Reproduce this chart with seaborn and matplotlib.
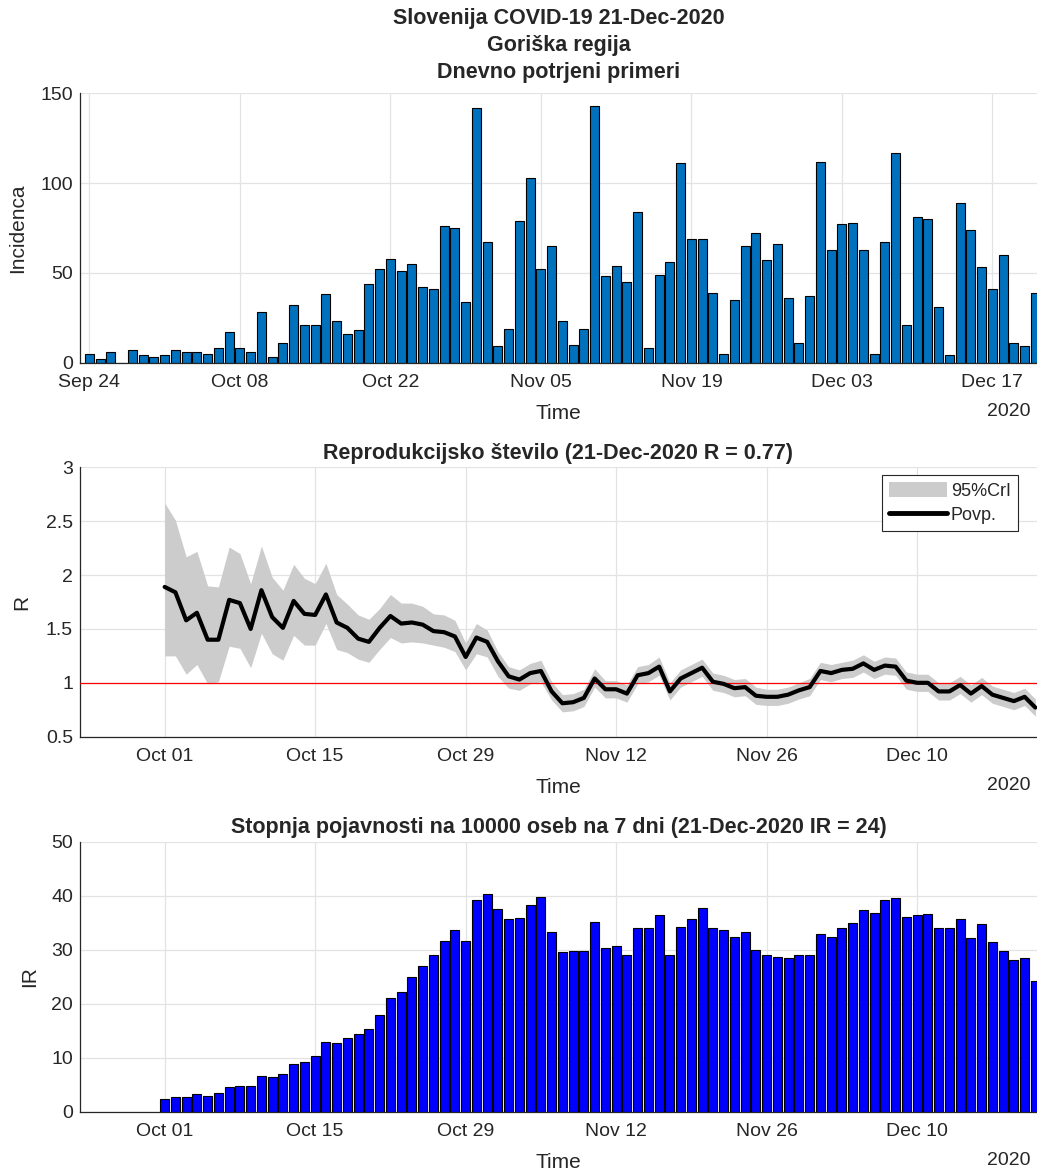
import matplotlib
matplotlib.use('Agg')  # Non-interactive backend
import pandas as pd
import matplotlib.pyplot as plt
import matplotlib.dates as mdates
from matplotlib.patches import Patch
from matplotlib.lines import Line2D
import seaborn as sns

# --- data ---
# daily confirmed cases, 24-Sep-2020 .. 21-Dec-2020
cases = [5, 2, 6, 0, 7, 4, 3,
         4, 7, 6, 6, 5, 8, 17, 8, 6, 28, 3, 11, 32, 21, 21, 38, 23, 16, 18,
         44, 52, 58, 51, 55, 42, 41, 76, 75, 34, 142, 67,
         9, 19, 79, 103, 52, 65, 23, 10, 19, 143, 48, 54, 45, 84, 8, 49, 56,
         111, 69, 69, 39, 5, 35, 65, 72, 57, 66, 36, 11, 37,
         112, 63, 77, 78, 63, 5, 67, 117, 21, 81, 80, 31, 4, 89, 74, 53, 41,
         60, 11, 9, 39]

# reproduction number, 01-Oct-2020 .. 21-Dec-2020
r_mean = [1.89, 1.84, 1.58, 1.65, 1.40, 1.40, 1.77, 1.74, 1.50, 1.86,
          1.61, 1.51, 1.76, 1.64, 1.63, 1.82, 1.56, 1.51, 1.41, 1.38,
          1.51, 1.62, 1.55, 1.56, 1.54, 1.48, 1.47, 1.43, 1.24, 1.42, 1.38,
          1.20, 1.06, 1.03, 1.09, 1.11,
          0.92, 0.81, 0.82, 0.86, 1.04, 0.94, 0.94, 0.90, 1.07, 1.09,
          1.15, 0.92, 1.04, 1.09, 1.14, 1.01, 0.99, 0.95, 0.96, 0.88,
          0.87, 0.87, 0.89, 0.93, 0.96,
          1.11, 1.09, 1.12, 1.13, 1.18, 1.12, 1.16, 1.15, 1.02, 1.00,
          1.00, 0.92, 0.92, 0.98, 0.90, 0.97, 0.89, 0.86, 0.83, 0.87, 0.77]
r_upper = [2.67, 2.51, 2.17, 2.22, 1.90, 1.89, 2.26, 2.20, 1.92, 2.27,
           1.98, 1.86, 2.10, 1.97, 1.92, 2.11, 1.82, 1.73, 1.63, 1.59,
           1.69, 1.82, 1.74, 1.74, 1.71, 1.64, 1.63, 1.58, 1.37, 1.55, 1.49,
           1.29, 1.15, 1.12, 1.18, 1.21,
           1.01, 0.89, 0.90, 0.94, 1.13, 1.02, 1.02, 0.98, 1.15, 1.17,
           1.24, 1.00, 1.12, 1.17, 1.22, 1.09, 1.07, 1.03, 1.04, 0.96,
           0.94, 0.94, 0.96, 1.00, 1.04,
           1.19, 1.17, 1.19, 1.21, 1.26, 1.20, 1.24, 1.23, 1.10, 1.08,
           1.08, 1.00, 1.00, 1.06, 0.98, 1.05, 0.97, 0.94, 0.91, 0.95, 0.85]
r_lower = [1.25, 1.25, 1.08, 1.17, 0.99, 1.01, 1.34, 1.32, 1.14, 1.46,
           1.27, 1.21, 1.44, 1.35, 1.35, 1.55, 1.31, 1.28, 1.22, 1.19,
           1.31, 1.42, 1.37, 1.38, 1.37, 1.35, 1.33, 1.29, 1.12, 1.27, 1.24,
           1.06, 0.95, 0.93, 0.99, 1.01,
           0.84, 0.73, 0.74, 0.78, 0.96, 0.86, 0.86, 0.82, 0.99, 1.01,
           1.07, 0.84, 0.96, 1.01, 1.06, 0.93, 0.91, 0.87, 0.88, 0.80,
           0.79, 0.79, 0.81, 0.85, 0.88,
           1.03, 1.01, 1.04, 1.05, 1.10, 1.04, 1.08, 1.07, 0.94, 0.92,
           0.92, 0.84, 0.84, 0.90, 0.82, 0.89, 0.81, 0.78, 0.75, 0.79, 0.69]

# 7-day incidence per 10000, 01-Oct-2020 .. 21-Dec-2020
ir = [2.35, 2.7, 2.7, 3.2, 3.0, 3.4, 4.6, 4.8, 4.8, 6.6, 6.4, 6.9, 8.9, 9.3,
      10.3, 13.0, 12.65, 13.7, 14.4, 15.3, 18.0, 21.0, 22.2,
      24.9, 27.0, 29.0, 31.7, 33.6, 31.7, 39.3, 40.4,
      37.5, 35.7, 35.9, 38.2, 39.8, 33.2, 29.5, 29.7, 29.7, 35.1, 30.4,
      30.6, 29.0, 34.0, 34.0, 36.4, 29.1, 34.3, 35.7, 37.7, 34.0, 33.6,
      32.3, 33.2, 29.9, 29.0, 28.6, 28.4, 29.0, 29.1,
      33.0, 32.3, 34.0, 35.0, 37.3, 36.8, 39.3, 39.6, 36.1, 36.4, 36.6,
      34.0, 34.0, 35.7, 32.2, 34.8, 31.4, 29.7, 28.1, 28.5, 24.2]

top_ticks = ['2020-09-24', '2020-10-08', '2020-10-22', '2020-11-05',
             '2020-11-19', '2020-12-03', '2020-12-17']
low_ticks = ['2020-10-01', '2020-10-15', '2020-10-29', '2020-11-12',
             '2020-11-26', '2020-12-10']

case_days = mdates.date2num(pd.date_range('2020-09-24', periods=len(cases)).to_pydatetime())
r_days = mdates.date2num(pd.date_range('2020-10-01', periods=len(r_mean)).to_pydatetime())
ir_days = mdates.date2num(pd.date_range('2020-10-01', periods=len(ir)).to_pydatetime())

sns.set_style("white")
plt.rcParams['font.family'] = ['Liberation Sans', 'DejaVu Sans']
plt.rcParams['axes.titleweight'] = 'bold'

TXT = '#262626'
GRID = '#e3e3e3'
xlo = mdates.date2num(pd.Timestamp('2020-09-24')) - 0.88
xhi = mdates.date2num(pd.Timestamp('2020-12-21')) + 0.15

fig = plt.figure(figsize=(10.37, 11.71), dpi=100)
ax1 = fig.add_axes([0.0771, 0.6903, 0.9229, 0.2300])
ax2 = fig.add_axes([0.0771, 0.3709, 0.9229, 0.2300])
ax3 = fig.add_axes([0.0771, 0.0506, 0.9229, 0.2306])


def style_axis(ax, ticks, ylab, ylab_x):
    ax.set_xlim(xlo, xhi)
    tick_pos = mdates.date2num(pd.to_datetime(ticks).to_pydatetime())
    ax.set_xticks(tick_pos)
    ax.set_xticklabels([pd.Timestamp(t).strftime('%b %d') for t in ticks])
    ax.set_axisbelow(True)
    ax.grid(True, color=GRID, linewidth=0.9)
    for side in ['top', 'right']:
        ax.spines[side].set_visible(False)
    for side in ['left', 'bottom']:
        ax.spines[side].set_color(TXT)
        ax.spines[side].set_linewidth(0.9)
    ax.tick_params(direction='in', length=7, width=0.8, color=TXT,
                   labelcolor=TXT, labelsize=14, pad=5)
    ax.tick_params(axis='x', pad=8)
    ax.set_xlabel('Time', fontsize=15, color=TXT, va='center')
    ax.xaxis.set_label_coords(0.5, -0.188)
    ax.set_ylabel(ylab, fontsize=15, color=TXT, va='center')
    ax.yaxis.set_label_coords(ylab_x, 0.5)
    ax.text(0.9927, -0.181, '2020', transform=ax.transAxes, ha='right',
            va='center', fontsize=14, color=TXT)


# --- PLOT 1: daily cases ---
sns.barplot(x=case_days, y=cases, native_scale=True, width=0.85,
            color='#0072BD', saturation=1, edgecolor='black', linewidth=0.8, ax=ax1)
ax1.set_ylim(0, 150)
ax1.set_yticks([0, 50, 100, 150])
style_axis(ax1, top_ticks, 'Incidenca', -0.0648)
ax1.set_title('Slovenija COVID-19 21-Dec-2020\nGoriška regija\nDnevno potrjeni primeri',
              fontsize=15.5, fontweight='bold', linespacing=1.38, pad=11)

# --- PLOT 2: reproduction number ---
ax2.fill_between(r_days, r_lower, r_upper, color='#cccccc', linewidth=0, zorder=2)
ax2.axhline(1, color='red', linewidth=0.9, zorder=3)
sns.lineplot(x=r_days, y=r_mean, color='black', linewidth=3, ax=ax2, zorder=4)
ax2.set_ylim(0.5, 3)
ax2.set_yticks([0.5, 1, 1.5, 2, 2.5, 3])
ax2.set_yticklabels(['0.5', '1', '1.5', '2', '2.5', '3'])
style_axis(ax2, low_ticks, 'R', -0.0606)
ax2.set_title('Reprodukcijsko število (21-Dec-2020 R = 0.77)', fontsize=15.5,
              fontweight='bold', pad=6)
handles = [Patch(facecolor='#cccccc', edgecolor='none', label='95%CrI'),
           Line2D([0], [0], color='black', linewidth=3.5, label='Povp.')]
leg = ax2.legend(handles=handles, loc='upper right', bbox_to_anchor=(0.980, 0.9714),
                 borderaxespad=0, fontsize=13, fancybox=False, framealpha=1,
                 edgecolor=TXT, handlelength=3.2, handleheight=0.9, borderpad=0.4,
                 labelspacing=0.35, handletextpad=0.2)
leg.get_frame().set_linewidth(0.8)

# --- PLOT 3: 7-day incidence ---
sns.barplot(x=ir_days, y=ir, native_scale=True, width=0.85,
            color='#0000FF', saturation=1, edgecolor='black', linewidth=0.8, ax=ax3)
ax3.set_ylim(0, 50)
ax3.set_yticks([0, 10, 20, 30, 40, 50])
style_axis(ax3, low_ticks, 'IR', -0.0522)
ax3.set_title('Stopnja pojavnosti na 10000 oseb na 7 dni (21-Dec-2020 IR = 24)',
              fontsize=15.5, fontweight='bold', pad=6)

fig.savefig('out.png', dpi=100)
plt.close(fig)
